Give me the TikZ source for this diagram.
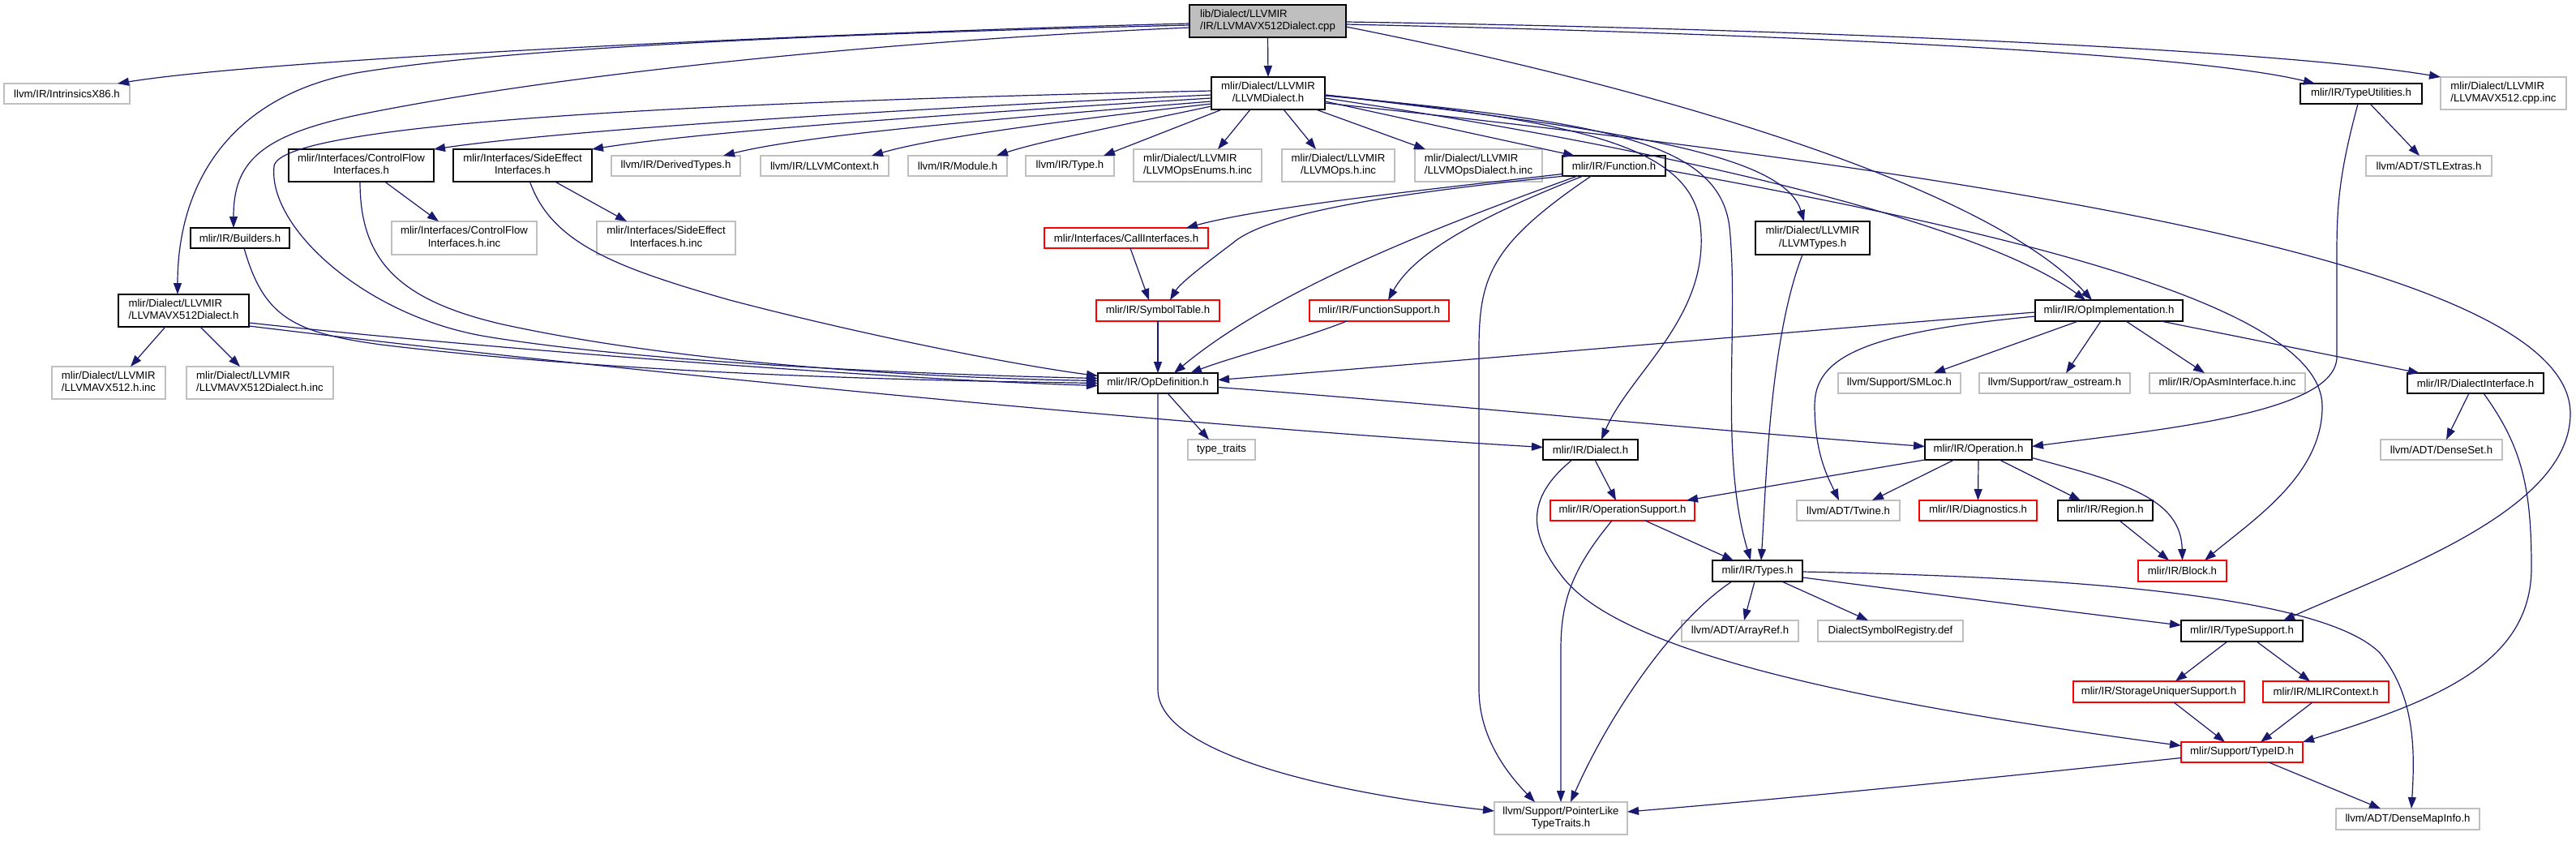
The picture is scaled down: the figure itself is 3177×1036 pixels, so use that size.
\documentclass[tikz,border=0pt]{standalone}
\usepackage{fontspec}
\setmainfont{Liberation Sans}
\usetikzlibrary{arrows.meta,calc}
\definecolor{edgecol}{RGB}{25,25,112}
\definecolor{gsev}{RGB}{191,191,191}
\newcommand\twol[2]{\begin{tabular}{@{}c@{}}\multicolumn{1}{@{}l@{}}{#1}\\#2\end{tabular}}
\begin{document}
\begin{tikzpicture}[x=1pt,y=-1pt,font=\fontsize{13.2}{15.5}\selectfont,
  nb/.style={draw,rectangle,inner sep=0pt,outer sep=0pt,line width=1.3pt,align=center,fill=white},
  blk/.style={nb,draw=black},
  gry/.style={nb,draw=gsev},
  rd/.style={nb,draw=red},
  mainn/.style={nb,draw=black,fill=gsev},
  ed/.style={draw=edgecol,line width=1.2pt,-{Triangle[length=14pt,width=10pt]}}]
\fill[white] (0,0) rectangle (3177,1036);
\useasboundingbox (0,0) rectangle (3177,1036);
% nodes
\node[mainn,minimum width=193pt,minimum height=40pt] (main) at (1563.5,26) {\twol{lib/Dialect/LLVMIR}{/IR/LLVMAVX512Dialect.cpp}};
\node[gry,minimum width=155pt,minimum height=25pt] (intr) at (82.5,115.5) {llvm/IR/IntrinsicsX86.h};
\node[blk,minimum width=161pt,minimum height=40pt] (avxd) at (226.5,383) {\twol{mlir/Dialect/LLVMIR}{/LLVMAVX512Dialect.h}};
\node[blk,minimum width=122pt,minimum height=25pt] (bld) at (296,293.5) {mlir/IR/Builders.h};
\node[blk,minimum width=140pt,minimum height=40pt] (lld) at (1564,115) {\twol{mlir/Dialect/LLVMIR}{/LLVMDialect.h}};
\node[blk,minimum width=182pt,minimum height=26pt] (opimpl) at (2601,383) {mlir/IR/OpImplementation.h};
\node[blk,minimum width=150pt,minimum height=25pt] (tutil) at (2912,115.5) {mlir/IR/TypeUtilities.h};
\node[gry,minimum width=155pt,minimum height=40pt] (cppinc) at (3087.5,115) {\twol{mlir/Dialect/LLVMIR}{/LLVMAVX512.cpp.inc}};
\node[blk,minimum width=179pt,minimum height=40pt] (cfi) at (445.5,204) {\twol{mlir/Interfaces/ControlFlow}{Interfaces.h}};
\node[blk,minimum width=171pt,minimum height=40pt] (sei) at (644.5,204) {\twol{mlir/Interfaces/SideEffect}{Interfaces.h}};
\node[gry,minimum width=159pt,minimum height=25pt] (dtypes) at (833.5,204.5) {llvm/IR/DerivedTypes.h};
\node[gry,minimum width=158pt,minimum height=25pt] (lctx) at (1017,204.5) {llvm/IR/LLVMContext.h};
\node[gry,minimum width=122pt,minimum height=25pt] (module) at (1181,204.5) {llvm/IR/Module.h};
\node[gry,minimum width=109pt,minimum height=25pt] (type) at (1319.5,204.5) {llvm/IR/Type.h};
\node[gry,minimum width=158pt,minimum height=40pt] (enums) at (1477,204) {\twol{mlir/Dialect/LLVMIR}{/LLVMOpsEnums.h.inc}};
\node[gry,minimum width=139pt,minimum height=40pt] (opsinc) at (1650.5,204) {\twol{mlir/Dialect/LLVMIR}{/LLVMOps.h.inc}};
\node[gry,minimum width=157pt,minimum height=40pt] (opsd) at (1823.5,204) {\twol{mlir/Dialect/LLVMIR}{/LLVMOpsDialect.h.inc}};
\node[blk,minimum width=127pt,minimum height=25pt] (func) at (1990.5,204.5) {mlir/IR/Function.h};
\node[blk,minimum width=141pt,minimum height=41pt] (lltypes) at (2235.5,293.5) {\twol{mlir/Dialect/LLVMIR}{/LLVMTypes.h}};
\node[gry,minimum width=155pt,minimum height=25pt] (stl) at (2995.5,204.5) {llvm/ADT/STLExtras.h};
\node[gry,minimum width=179pt,minimum height=41pt] (cfiinc) at (572.5,293.5) {\twol{mlir/Interfaces/ControlFlow}{Interfaces.h.inc}};
\node[gry,minimum width=171pt,minimum height=41pt] (seiinc) at (821.5,293.5) {\twol{mlir/Interfaces/SideEffect}{Interfaces.h.inc}};
\node[rd,minimum width=202pt,minimum height=25pt] (callif) at (1389,293.5) {mlir/Interfaces/CallInterfaces.h};
\node[rd,minimum width=152pt,minimum height=26pt] (symtab) at (1428,383) {mlir/IR/SymbolTable.h};
\node[rd,minimum width=172pt,minimum height=26pt] (funcsup) at (1701,383) {mlir/IR/FunctionSupport.h};
\node[gry,minimum width=140pt,minimum height=40pt] (avxhinc) at (134,472) {\twol{mlir/Dialect/LLVMIR}{/LLVMAVX512.h.inc}};
\node[gry,minimum width=181pt,minimum height=40pt] (avxdinc) at (320.5,472) {\twol{mlir/Dialect/LLVMIR}{/LLVMAVX512Dialect.h.inc}};
\node[blk,minimum width=148pt,minimum height=25pt] (opdef) at (1428,472.5) {mlir/IR/OpDefinition.h};
\node[gry,minimum width=151pt,minimum height=25pt] (smloc) at (2342.5,472.5) {llvm/Support/SMLoc.h};
\node[gry,minimum width=186pt,minimum height=25pt] (raw) at (2534,472.5) {llvm/Support/raw\_ostream.h};
\node[gry,minimum width=192pt,minimum height=25pt] (opasm) at (2747,472.5) {mlir/IR/OpAsmInterface.h.inc};
\node[blk,minimum width=168pt,minimum height=25pt] (dif) at (3053,472.5) {mlir/IR/DialectInterface.h};
\node[gry,minimum width=83pt,minimum height=25pt] (tt) at (1506.5,554.5) {type\_traits};
\node[blk,minimum width=117pt,minimum height=25pt] (dialect) at (1961.5,554.5) {mlir/IR/Dialect.h};
\node[blk,minimum width=132pt,minimum height=25pt] (operation) at (2440,554.5) {mlir/IR/Operation.h};
\node[gry,minimum width=150pt,minimum height=25pt] (dset) at (3011,554.5) {llvm/ADT/DenseSet.h};
\node[rd,minimum width=178pt,minimum height=25pt] (opsup) at (2001,629.5) {mlir/IR/OperationSupport.h};
\node[gry,minimum width=127pt,minimum height=25pt] (twine) at (2279.5,629.5) {llvm/ADT/Twine.h};
\node[rd,minimum width=145pt,minimum height=25pt] (diag) at (2439.5,629.5) {mlir/IR/Diagnostics.h};
\node[blk,minimum width=117pt,minimum height=25pt] (region) at (2596.5,629.5) {mlir/IR/Region.h};
\node[blk,minimum width=111pt,minimum height=26pt] (types) at (2167.5,704) {mlir/IR/Types.h};
\node[rd,minimum width=109pt,minimum height=26pt] (block) at (2691.5,704) {mlir/IR/Block.h};
\node[gry,minimum width=144pt,minimum height=26pt] (aref) at (2146,778) {llvm/ADT/ArrayRef.h};
\node[gry,minimum width=179pt,minimum height=26pt] (dsr) at (2331.5,778) {DialectSymbolRegistry.def};
\node[blk,minimum width=150pt,minimum height=26pt] (tsup) at (2765,778) {mlir/IR/TypeSupport.h};
\node[rd,minimum width=211pt,minimum height=26pt] (suniq) at (2662.5,853) {mlir/IR/StorageUniquerSupport.h};
\node[rd,minimum width=155pt,minimum height=26pt] (mctx) at (2868.5,853) {mlir/IR/MLIRContext.h};
\node[rd,minimum width=150pt,minimum height=25pt] (tid) at (2765,927.5) {mlir/Support/TypeID.h};
\node[gry,minimum width=164pt,minimum height=40pt] (plike) at (1925,1009) {\twol{llvm/Support/PointerLike}{TypeTraits.h}};
\node[gry,minimum width=177pt,minimum height=26pt] (dmi) at (2969.5,1010) {llvm/ADT/DenseMapInfo.h};
% edges from main
\draw[ed] ($(main.west)+(0,3)$) .. controls (1100,38) and (350,70) .. ($(intr.north)+(62.5,0)$);
\draw[ed] ($(main.west)+(0,5)$) .. controls (1000,42) and (620,60) .. (439,90) .. controls (280,120) and (219,230) .. ($(avxd.north)+(-7.5,0)$);
\draw[ed] ($(main.west)+(0,8)$) .. controls (1100,50) and (700,90) .. (450,140) .. controls (320,166) and (288,200) .. ($(bld.north)+(-8,0)$);
\draw[ed] (main.south) -- (lld.north);
\draw[ed] ($(main.east)+(0,7)$) .. controls (2050,110) and (2450,230) .. ($(opimpl.north)+(-21,0)$);
\draw[ed] ($(main.east)+(0,4)$) .. controls (2200,42) and (2700,65) .. ($(tutil.north)+(-57,0)$);
\draw[ed] ($(main.east)+(0,1)$) .. controls (2200,35) and (2800,60) .. (cppinc.north west);
% edges from LLVMDialect.h
\draw[ed] ($(lld.west)+(0,2)$) .. controls (1100,135) and (700,160) .. (cfi.north east);
\draw[ed] ($(lld.west)+(0,6)$) .. controls (1100,145) and (850,165) .. (sei.north east);
\draw[ed] ($(lld.west)+(0,10)$) .. controls (1250,145) and (1000,165) .. ($(dtypes.north)+(58.5,0)$);
\draw[ed] ($(lld.west)+(0,13)$) .. controls (1300,150) and (1150,170) .. ($(lctx.north)+(58,0)$);
\draw[ed] ($(lld.west)+(0,16)$) .. controls (1380,155) and (1280,175) .. ($(module.north)+(48,0)$);
\draw[ed] ($(lld.south)+(-57,0)$) -- ($(type.north)+(41.5,0)$);
\draw[ed] ($(lld.south)+(-22,0)$) -- ($(enums.north)+(25,0)$);
\draw[ed] ($(lld.south)+(19,0)$) -- ($(opsinc.north)+(-27.5,0)$);
\draw[ed] ($(lld.south)+(59,0)$) -- ($(opsd.north)+(-65.5,0)$);
\draw[ed] ($(lld.east)+(0,10)$) -- ($(func.north)+(-48.5,0)$);
\draw[ed] ($(lld.east)+(0,2)$) .. controls (2000,160) and (2200,190) .. ($(lltypes.north)+(-10.5,0)$);
\draw[ed] ($(lld.east)+(0,3)$) .. controls (1980,150) and (2120,175) .. (2133,280) .. controls (2145,400) and (2120,560) .. ($(types.north)+(-8.5,0)$);
\draw[ed] ($(lld.east)+(0,2)$) .. controls (1950,150) and (2085,180) .. (2097,277) .. controls (2110,390) and (2010,460) .. ($(dialect.north)+(13.5,0)$);
\draw[ed] ($(lld.west)+(0,-3)$) .. controls (900,125) and (345,150) .. (338,205) .. controls (330,280) and (450,390) .. (600,415) .. controls (800,448) and (1150,462) .. ($(opdef.west)+(0,-6)$);
\draw[ed] ($(lld.east)+(0,6)$) .. controls (2100,190) and (2450,280) .. ($(opimpl.north)+(-29,0)$);
\draw[ed] ($(lld.east)+(0,12)$) .. controls (2500,220) and (3170,330) .. (3170,510) .. controls (3170,630) and (2950,705) .. ($(tsup.north)+(51,0)$);
% interfaces, builders, avx512 dialect
\draw[ed] ($(cfi.south)+(29,0)$) -- ($(cfiinc.north)+(-31.5,0)$);
\draw[ed] ($(cfi.south)+(-1.5,0)$) .. controls (444,320) and (490,370) .. (620,400) .. controls (850,450) and (1150,466) .. ($(opdef.west)+(0,-3)$);
\draw[ed] ($(sei.south)+(40,0)$) -- ($(seiinc.north)+(-48.5,0)$);
\draw[ed] ($(sei.south)+(9,0)$) .. controls (680,300) and (760,330) .. (900,370) .. controls (1060,412) and (1250,450) .. ($(opdef.west)+(0,-9)$);
\draw[ed] ($(bld.south)+(5,0)$) .. controls (325,390) and (360,410) .. (470,425) .. controls (800,465) and (1200,470) .. (opdef.west);
\draw[ed] ($(avxd.south)+(-22.5,0)$) -- ($(avxhinc.north)+(27,0)$);
\draw[ed] ($(avxd.south)+(20.5,0)$) -- ($(avxdinc.north)+(-24.5,0)$);
\draw[ed] ($(avxd.east)+(0,15)$) .. controls (600,430) and (1100,468) .. ($(opdef.west)+(0,3)$);
\draw[ed] ($(avxd.east)+(0,19)$) .. controls (800,462) and (1500,528) .. ($(dialect.west)+(0,-3)$);
% Function.h
\draw[ed] ($(func.west)+(0,10)$) .. controls (1750,235) and (1560,255) .. ($(callif.north)+(74,0)$);
\draw[ed] ($(func.south)+(-60,0)$) .. controls (1700,240) and (1560,265) .. (1520,300) .. controls (1480,330) and (1455,350) .. ($(symtab.north)+(15,0)$);
\draw[ed] ($(func.south)+(-45,0)$) .. controls (1800,270) and (1580,350) .. ($(opdef.north)+(20,0)$);
\draw[ed] ($(func.south)+(-38,0)$) .. controls (1830,265) and (1745,310) .. ($(funcsup.north)+(11,0)$);
\draw[ed] ($(func.south)+(-28,0)$) .. controls (1840,300) and (1824,340) .. (1824,430) -- (1824,850) .. controls (1824,910) and (1860,955) .. ($(plike.north)+(-32,0)$);
\draw[ed] ($(func.east)+(0,5)$) .. controls (2500,290) and (2862,380) .. (2864,500) .. controls (2865,585) and (2780,640) .. ($(block.north)+(27.5,0)$);
% misc
\draw[ed] ($(callif.south)+(5,0)$) -- ($(symtab.north)+(-11,0)$);
\draw[ed] (symtab.south) -- (opdef.north);
\draw[ed] ($(funcsup.south)+(-40,0)$) .. controls (1600,420) and (1520,440) .. ($(opdef.north)+(40,0)$);
\draw[ed] ($(opimpl.west)+(0,2)$) .. controls (2200,410) and (1800,445) .. ($(opdef.east)+(0,-4)$);
\draw[ed] ($(opimpl.west)+(0,7)$) .. controls (2300,410) and (2238,440) .. (2238,500) .. controls (2238,560) and (2255,590) .. ($(twine.north)+(-11.5,0)$);
\draw[ed] ($(opimpl.south)+(-38,0)$) -- ($(smloc.north)+(42.5,0)$);
\draw[ed] ($(opimpl.south)+(-10,0)$) -- ($(raw.north)+(14,0)$);
\draw[ed] ($(opimpl.south)+(21,0)$) -- ($(opasm.north)+(-28,0)$);
\draw[ed] ($(opimpl.south)+(64,0)$) -- ($(dif.north)+(-69,0)$);
% OpDefinition.h
\draw[ed] ($(opdef.south)+(12,0)$) -- ($(tt.north)+(-15.5,0)$);
\draw[ed] ($(opdef.east)+(0,5)$) .. controls (1800,500) and (2100,530) .. ($(operation.west)+(0,-4)$);
\draw[ed] (opdef.south) -- (1428,850) .. controls (1428,925) and (1620,975) .. ($(plike.west)+(0,-9)$);
% Dialect.h
\draw[ed] ($(dialect.south)+(5.5,0)$) -- ($(opsup.north)+(-8,0)$);
\draw[ed] ($(dialect.south)+(-22.5,0)$) .. controls (1880,615) and (1885,660) .. (1930,715) .. controls (2010,810) and (2320,870) .. ($(tid.west)+(0,-8)$);
% Operation.h
\draw[ed] (operation.south west) -- ($(opsup.north)+(79,0)$);
\draw[ed] ($(operation.south)+(-30,0)$) -- ($(twine.north)+(29.5,0)$);
\draw[ed] (operation.south) -- (diag.north);
\draw[ed] ($(operation.south)+(26,0)$) -- ($(region.north)+(-30.5,0)$);
\draw[ed] ($(operation.east)+(0,10)$) .. controls (2620,595) and (2690,615) .. (block.north);
\draw[ed] ($(region.south)+(17.5,0)$) -- ($(block.north)+(-16.5,0)$);
% OperationSupport / Types
\draw[ed] ($(opsup.south)+(28,0)$) -- ($(types.north)+(-29.5,0)$);
\draw[ed] ($(opsup.south)+(-13,0)$) .. controls (1940,700) and (1925,740) .. (1925,800) -- (plike.north);
\draw[ed] ($(lltypes.south)+(-12.5,0)$) .. controls (2182,420) and (2178,600) .. ($(types.north)+(4.5,0)$);
\draw[ed] ($(types.south)+(-3.5,0)$) -- ($(aref.north)+(5,0)$);
\draw[ed] ($(types.south)+(30,0)$) -- ($(dsr.north)+(-27.5,0)$);
\draw[ed] ($(types.south)+(-31.5,0)$) .. controls (2070,760) and (1990,870) .. ($(plike.north)+(12,0)$);
\draw[ed] ($(types.east)+(0,8)$) .. controls (2400,735) and (2600,760) .. ($(tsup.west)+(0,-7)$);
\draw[ed] ($(types.east)+(0,1)$) .. controls (2600,712) and (2870,740) .. (2935,805) .. controls (2980,860) and (2978,930) .. ($(dmi.north)+(4.5,0)$);
% TypeUtilities, DialectInterface
\draw[ed] ($(tutil.south)+(11,0)$) -- ($(stl.north)+(-11.5,0)$);
\draw[ed] ($(tutil.south)+(-4,0)$) .. controls (2886,210) and (2882,250) .. (2882,310) -- (2882,440) .. controls (2882,510) and (2660,530) .. ($(operation.east)+(0,-4)$);
\draw[ed] ($(dif.south)+(-8,0)$) -- ($(dset.north)+(6,0)$);
\draw[ed] ($(dif.south)+(10,0)$) .. controls (3110,550) and (3122,600) .. (3122,700) .. controls (3122,820) and (3000,865) .. (tid.north east);
% TypeSupport, TypeID
\draw[ed] ($(tsup.south)+(-18,0)$) -- ($(suniq.north)+(20.5,0)$);
\draw[ed] ($(tsup.south)+(18,0)$) -- ($(mctx.north)+(-19.5,0)$);
\draw[ed] ($(suniq.south)+(18.5,0)$) -- ($(tid.north)+(-21,0)$);
\draw[ed] ($(mctx.south)+(-16.5,0)$) -- ($(tid.north)+(23,0)$);
\draw[ed] ($(tid.south)+(33,0)$) -- ($(dmi.north)+(-33.5,0)$);
\draw[ed] ($(tid.west)+(0,7)$) .. controls (2400,965) and (2200,985) .. ($(plike.east)+(0,-8)$);
\end{tikzpicture}
\end{document}
